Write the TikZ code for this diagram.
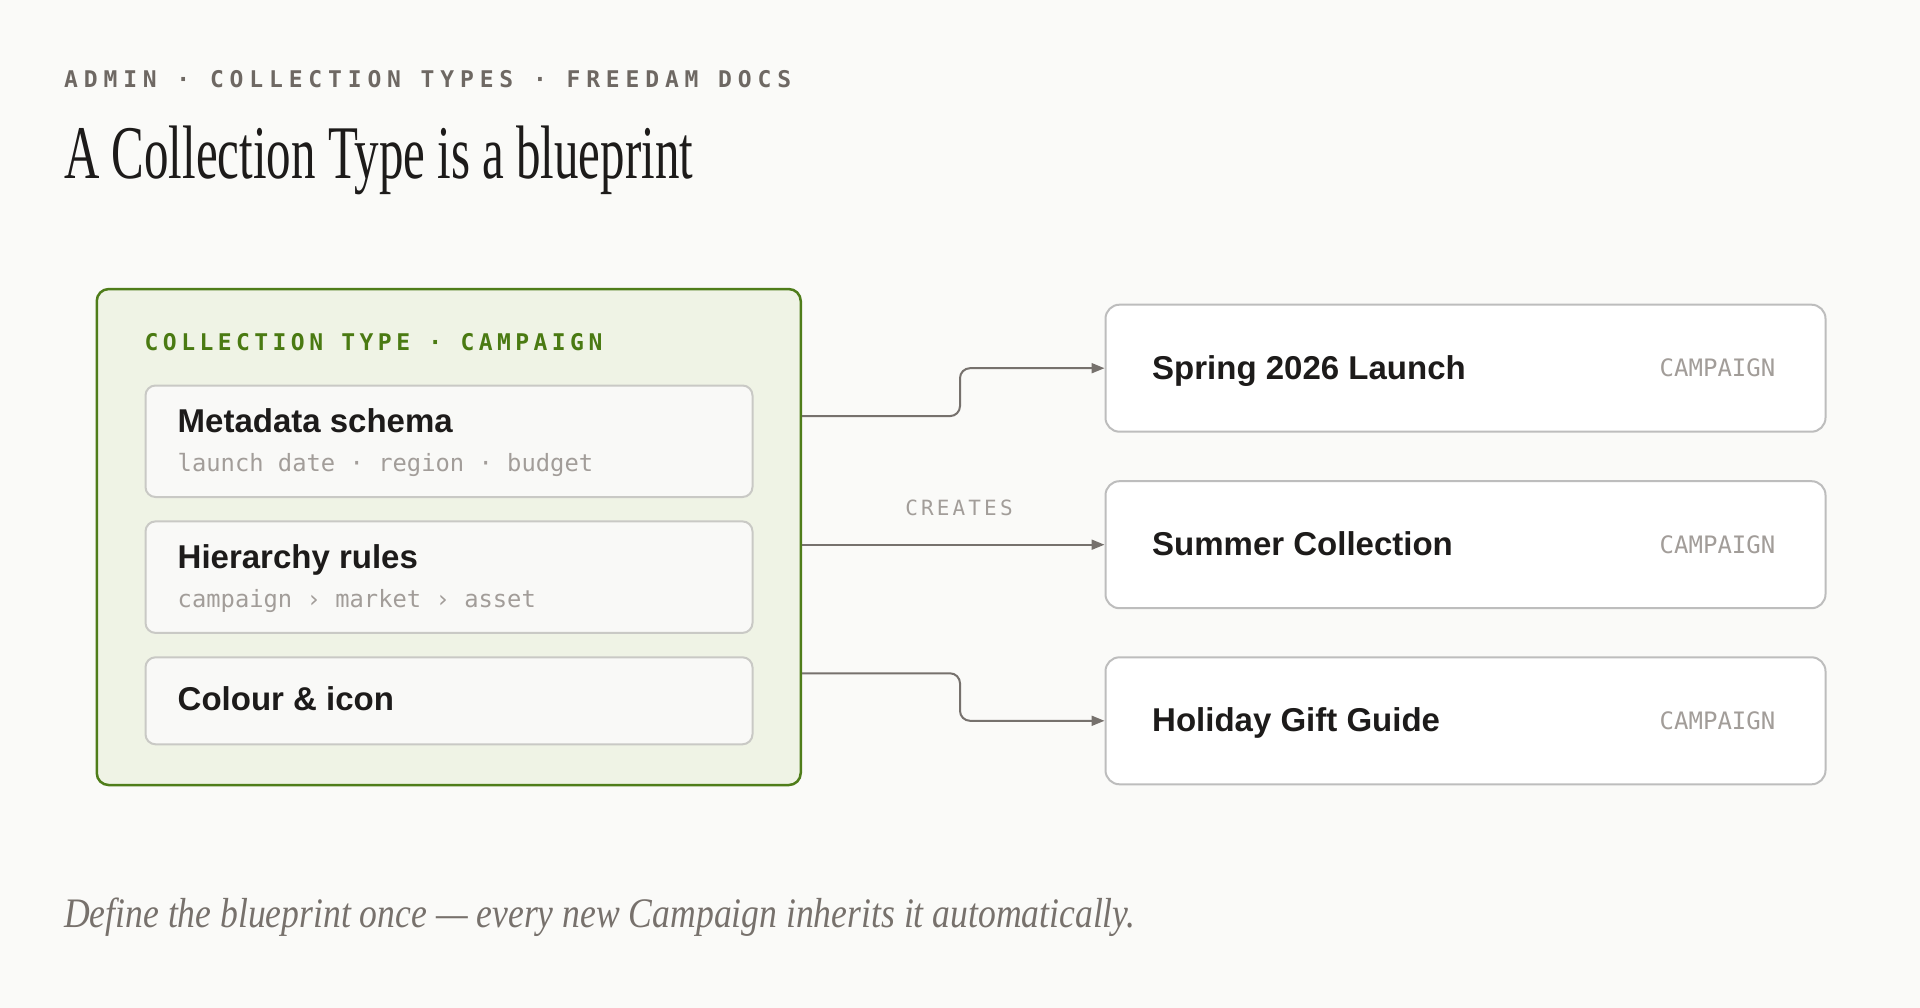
\documentclass[tikz,border=0pt]{standalone}
\usepackage{fontspec}
\setmainfont{Liberation Serif}
\setsansfont{Liberation Sans}
\setmonofont{DejaVu Sans Mono}
\newfontfamily\titlefont[FakeStretch=0.646]{Liberation Serif}
\newfontfamily\footfont[FakeStretch=0.848]{Liberation Serif}
\newfontfamily\hdrfont[LetterSpace=25.4]{DejaVu Sans Mono}
\newfontfamily\grnfont[LetterSpace=19.3]{DejaVu Sans Mono}
\newfontfamily\crtfont[LetterSpace=15]{DejaVu Sans Mono}
\newfontfamily\boxfont{Liberation Sans}
\newfontfamily\monofont{DejaVu Sans Mono}
\usetikzlibrary{arrows.meta,calc}
\definecolor{bg}{HTML}{FAFAF8}
\definecolor{hdr}{HTML}{6E6863}
\definecolor{ttl}{HTML}{1D1B1A}
\definecolor{grn}{HTML}{4F7D1A}
\definecolor{grnfill}{HTML}{EFF3E5}
\definecolor{grntxt}{HTML}{4A7A12}
\definecolor{innerfill}{HTML}{F9F9F7}
\definecolor{innerline}{HTML}{C9C9C5}
\definecolor{cardline}{HTML}{BDBDBD}
\definecolor{arr}{HTML}{76716D}
\definecolor{sub}{HTML}{A29D99}
\definecolor{foot}{HTML}{77716C}
\tikzset{
  outerbox/.style={draw=grn, line width=2.5pt, fill=grnfill, rounded corners=12pt,
    anchor=north west, inner sep=0pt, minimum width=704pt, minimum height=496pt},
  innerbox/.style={draw=innerline, line width=2pt, fill=innerfill, rounded corners=10pt,
    anchor=north west, inner sep=0pt, minimum width=607pt},
  card/.style={draw=cardline, line width=2pt, fill=white, rounded corners=14pt,
    anchor=north west, inner sep=0pt, minimum width=720pt, minimum height=127pt},
  boxtitle/.style={anchor=base west, inner sep=0pt, text=ttl,
    font=\boxfont\bfseries\fontsize{33}{38}\selectfont},
  subtext/.style={anchor=base west, inner sep=0pt, text=sub,
    font=\monofont\fontsize{23.8}{28}\selectfont},
  tag/.style={anchor=base east, inner sep=0pt, text=sub,
    font=\monofont\fontsize{24}{28}\selectfont},
  link/.style={draw=arr, line width=2pt, rounded corners=10pt,
    -{Triangle[length=13pt,width=10pt]}},
}
\begin{document}
\begin{tikzpicture}[x=1pt,y=-1pt]
\useasboundingbox (0,0) rectangle (1920,1008);
\fill[bg] (0,0) rectangle (1920,1008);

\node[anchor=base west, inner sep=0pt, text=hdr, font=\hdrfont\bfseries\fontsize{23}{28}\selectfont]
  (hdr) at (64,88) {ADMIN · COLLECTION TYPES · FREEDAM DOCS};
\node[anchor=base west, inner sep=0pt, text=ttl, font=\titlefont\fontsize{75.8}{80}\selectfont]
  (title) at (64,179) {A Collection Type is a blueprint};

% collection type box
\node[outerbox] (ct) at (95.5,287.8) {};
\node[anchor=base west, inner sep=0pt, text=grntxt, font=\grnfont\bfseries\fontsize{23}{28}\selectfont]
  (ctlabel) at (144.5,351) {COLLECTION TYPE · CAMPAIGN};

\node[innerbox, minimum height=111.5pt] (b1) at (144.5,384.5) {};
\node[boxtitle] (b1t) at (177.5,432) {Metadata schema};
\node[subtext] (b1s) at (177.5,471) {launch date · region · budget};

\node[innerbox, minimum height=111.5pt] (b2) at (144.5,520.4) {};
\node[boxtitle] (b2t) at (177.5,568) {Hierarchy rules};
\node[subtext] (b2s) at (177.5,607) {campaign › market › asset};

\node[innerbox, minimum height=87pt] (b3) at (144.5,656.3) {};
\node[boxtitle] (b3t) at (177.5,710) {Colour \& icon};

% cards
\node[card] (r1) at (1104.5,303.7) {};
\node[boxtitle] (r1t) at (1152,379) {Spring 2026 Launch};
\node[tag] (r1g) at (1775.5,377) {CAMPAIGN};

\node[card] (r2) at (1104.5,480.2) {};
\node[boxtitle] (r2t) at (1152,555.5) {Summer Collection};
\node[tag] (r2g) at (1775.5,553) {CAMPAIGN};

\node[card] (r3) at (1104.5,656.3) {};
\node[boxtitle] (r3t) at (1152,731.8) {Holiday Gift Guide};
\node[tag] (r3g) at (1775.5,729.5) {CAMPAIGN};

% connectors
\coordinate (s2) at (ct.east |- r2.west);
\coordinate (s1) at ($(s2)+(0,-128.6)$);
\coordinate (s3) at ($(s2)+(0,128.6)$);
\draw[link] (s1) -- (960,0 |- s1) -- (960,0 |- r1.west) -- (r1.west);
\draw[link] (s2) -- (r2.west);
\draw[link] (s3) -- (960,0 |- s3) -- (960,0 |- r3.west) -- (r3.west);
\node[anchor=base, inner sep=0pt, text=sub, font=\crtfont\fontsize{21}{26}\selectfont]
  (creates) at (959,515) {CREATES};

\node[anchor=base west, inner sep=0pt, text=foot, font=\footfont\itshape\fontsize{42}{48}\selectfont]
  (foot) at (64,927) {Define the blueprint once — every new Campaign inherits it automatically.};
\end{tikzpicture}
\end{document}
